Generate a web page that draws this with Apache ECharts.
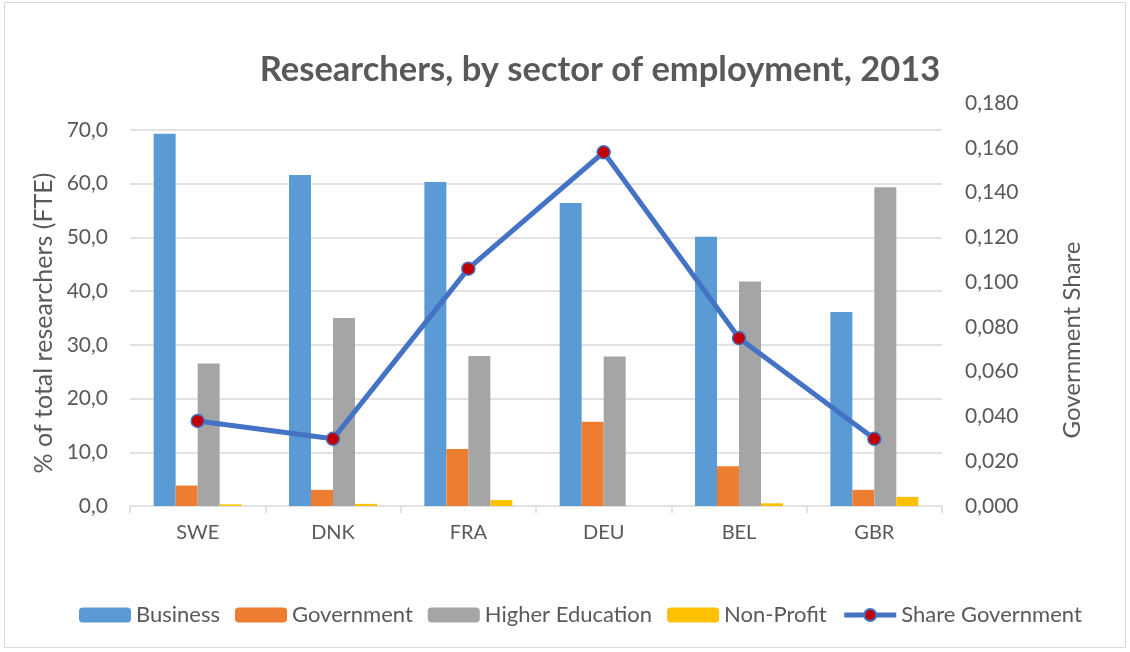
<!DOCTYPE html>
<html>
<head>
<meta charset="utf-8">
<script src="https://cdn.jsdelivr.net/npm/echarts@6/dist/echarts.min.js"></script>
<style>
  html, body { margin: 0; padding: 0; background: #fff; }
  #chart { width: 1130px; height: 652px; }
</style>
</head>
<body>
<div id="chart"></div>
<script>
// data
const countries = ["SWE", "DNK", "FRA", "DEU", "BEL", "GBR"];
const business = [69.3, 61.6, 60.3, 56.4, 50.1, 36.1];
const government = [3.8, 3.0, 10.6, 15.7, 7.4, 3.0];
const higherEducation = [26.5, 35.0, 27.9, 27.8, 41.8, 59.3];
const nonProfit = [0.3, 0.4, 1.1, 0.0, 0.5, 1.7];
const shareGovernment = [0.038, 0.030, 0.106, 0.158, 0.075, 0.030];

const fontFamily = "Lato, 'Open Sans', sans-serif";
const textColor = "#595959";

const chart = echarts.init(document.getElementById("chart"));

// komma als decimaalteken
const fmt = (digits) => (v) => Number(v).toFixed(digits).replace(".", ",");

chart.setOption({
  textStyle: { fontFamily: fontFamily, color: textColor },
  title: {
    text: "Researchers, by sector of employment, 2013",
    left: 595,
    textAlign: "center",
    top: 47,
    textStyle: { fontFamily: fontFamily, fontSize: 34.5, fontWeight: "bold", color: textColor }
  },
  graphic: [
    {
      type: "rect",
      shape: { x: 4.5, y: 2.5, width: 1121, height: 645 },
      style: { fill: "none", stroke: "#d9d9d9", lineWidth: 1 },
      silent: true
    },
    {
      // linker asnaam
      type: "text",
      x: 44,
      y: 323,
      rotation: Math.PI / 2,
      style: {
        text: "% of total researchers (FTE)",
        fontFamily: fontFamily,
        fontSize: 25,
        fill: textColor,
        align: "center",
        verticalAlign: "middle"
      },
      silent: true
    },
    {
      // rechter asnaam
      type: "text",
      x: 1072,
      y: 340,
      rotation: Math.PI / 2,
      style: {
        text: "Government Share",
        fontFamily: fontFamily,
        fontSize: 24,
        fill: textColor,
        align: "center",
        verticalAlign: "middle"
      },
      silent: true
    }
  ],
  legend: {
    bottom: 21,
    left: 74,
    itemWidth: 52,
    itemHeight: 15,
    itemGap: 15,
    textStyle: { fontFamily: fontFamily, fontSize: 22, color: textColor },
    data: [
      "Business",
      "Government",
      "Higher Education",
      "Non-Profit",
      { name: "Share Government", lineStyle: { width: 5, color: "#4472C4" } }
    ]
  },
  grid: { left: 130, right: 188, top: 103, bottom: 146 },
  xAxis: {
    type: "category",
    data: countries,
    axisLine: { lineStyle: { color: "#d9d9d9", width: 1.5 } },
    axisTick: { show: true, length: 7, lineStyle: { color: "#d9d9d9", width: 1.5 } },
    axisLabel: { fontFamily: fontFamily, fontSize: 20, color: textColor, margin: 17 }
  },
  yAxis: [
    {
      type: "value",
      min: 0,
      max: 75,
      interval: 10,
      axisLine: { show: false },
      axisTick: { show: false },
      axisLabel: { fontFamily: fontFamily, fontSize: 21, color: textColor, margin: 22, showMaxLabel: false, formatter: fmt(1) },
      splitLine: { show: true, showMinLine: false, showMaxLine: false, lineStyle: { color: "#d9d9d9", width: 1.5 } }
    },
    {
      type: "value",
      min: 0,
      max: 0.18,
      interval: 0.02,
      axisLine: { show: false },
      axisTick: { show: false },
      axisLabel: { fontFamily: fontFamily, fontSize: 21, color: textColor, margin: 23, formatter: fmt(3) },
      splitLine: { show: false }
    }
  ],
  series: [
    {
      name: "Business",
      type: "bar",
      data: business,
      barGap: "0%",
      barCategoryGap: "35%",
      itemStyle: { color: "#5B9BD5" }
    },
    {
      name: "Government",
      type: "bar",
      data: government,
      itemStyle: { color: "#ED7D31" }
    },
    {
      name: "Higher Education",
      type: "bar",
      data: higherEducation,
      itemStyle: { color: "#A5A5A5" }
    },
    {
      name: "Non-Profit",
      type: "bar",
      data: nonProfit,
      itemStyle: { color: "#FFC000" }
    },
    {
      name: "Share Government",
      type: "line",
      yAxisIndex: 1,
      data: shareGovernment,
      z: 5,
      symbol: "circle",
      symbolSize: 13,
      lineStyle: { color: "#4472C4", width: 5 },
      itemStyle: { color: "#C00000", borderColor: "#4472C4", borderWidth: 1.5 }
    }
  ]
});

window.onresize = function () {
  chart.resize();
};
</script>
</body>
</html>
